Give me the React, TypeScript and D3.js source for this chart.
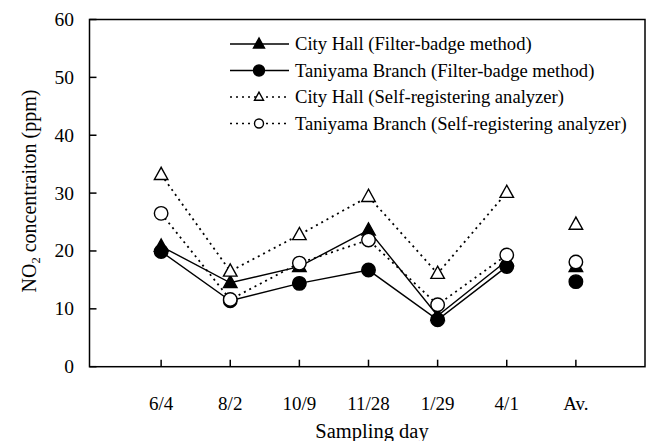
import React from "react";
import * as d3 from "d3";

const categories = ["6/4", "8/2", "10/9", "11/28", "1/29", "4/1", "Av."];
const cityFilter = [20.8, 14.5, 17.3, 23.6, 8.8, 18.3, 17.3];
const taniFilter = [19.9, 11.4, 14.4, 16.7, 8.1, 17.3, 14.7];
const citySelf = [33.2, 16.5, 22.8, 29.4, 16.1, 30.1, 24.6];
const taniSelf = [26.5, 11.6, 17.9, 21.9, 10.7, 19.3, 18.1];
const yTicks = [0, 10, 20, 30, 40, 50, 60];
const legendLabels = [
  "City Hall (Filter-badge method)",
  "Taniyama Branch (Filter-badge method)",
  "City Hall (Self-registering analyzer)",
  "Taniyama Branch (Self-registering analyzer)",
];

const W = 654, H = 441;
const L = 89.5, R = 645, T = 19.5, B = 366.7;
const FONT = "'Liberation Serif', 'Times New Roman', serif";

function Marker({ kind, x, y, s }: { kind: string; x: number; y: number; s: number }) {
  if (kind === "tri" || kind === "otri") {
    const h = s * 0.9;
    const pts = `${x},${y - h * 0.6} ${x - s / 2},${y + h * 0.4} ${x + s / 2},${y + h * 0.4}`;
    return (
      <polygon
        points={pts}
        fill={kind === "tri" ? "#000" : "#fff"}
        stroke="#000"
        strokeWidth={1.4}
        strokeLinejoin="miter"
      />
    );
  }
  return (
    <circle
      cx={x}
      cy={y}
      r={s / 2}
      fill={kind === "circ" ? "#000" : "#fff"}
      stroke="#000"
      strokeWidth={1.4}
    />
  );
}

export default function App() {
  const x = d3.scalePoint<string>().domain(categories).range([92, 645]).padding(1);
  const y = d3.scaleLinear().domain([0, 60]).range([B, T]);

  const series = [
    { data: cityFilter, kind: "tri", dash: null as string | null },
    { data: taniFilter, kind: "circ", dash: null },
    { data: citySelf, kind: "otri", dash: "2,4" },
    { data: taniSelf, kind: "ocirc", dash: "2,4" },
  ];

  const line = d3
    .line<number>()
    .x((_, i) => x(categories[i]) as number)
    .y((d) => y(d));

  const connected = categories.length - 1; // Av. not connected

  return (
    <svg
      width={W}
      height={H}
      style={{ position: "absolute", left: 0, top: 0, background: "#fff" }}
      fontFamily={FONT}
    >
      <rect x={0} y={0} width={W} height={H} fill="#fff" />
      {/* frame */}
      <rect x={L} y={T} width={R - L} height={B - T} fill="none" stroke="#000" strokeWidth={1.5} />
      {/* y ticks */}
      {yTicks.map((t) => (
        <g key={t}>
          <line x1={L} x2={L + 7} y1={y(t)} y2={y(t)} stroke="#000" strokeWidth={1.5} />
          <text x={74} y={y(t) + 6.5} textAnchor="end" fontSize={19.5}>
            {t}
          </text>
        </g>
      ))}
      {/* x ticks */}
      {categories.map((c) => (
        <g key={c}>
          <line x1={x(c)} x2={x(c)} y1={B} y2={B - 7} stroke="#000" strokeWidth={1.5} />
          <text x={x(c)} y={409.5} textAnchor="middle" fontSize={19}>
            {c}
          </text>
        </g>
      ))}
      <text x={372} y={438} textAnchor="middle" fontSize={20.5}>
        Sampling day
      </text>
      <text transform={`translate(36,191) rotate(-90)`} textAnchor="middle" fontSize={20}>
        NO<tspan fontSize={12.5} dy={4}>2</tspan>
        <tspan dy={-4}> concentraiton (ppm)</tspan>
      </text>
      {/* lines */}
      {series.map((s, i) => (
        <path
          key={"l" + i}
          d={line(s.data.slice(0, connected)) || ""}
          fill="none"
          stroke="#000"
          strokeWidth={s.dash ? 1.8 : 1.4}
          strokeDasharray={s.dash || undefined}
        />
      ))}
      {/* markers */}
      {series.map((s, i) => (
        <g key={"m" + i}>
          {s.data.map((v, j) => (
            <Marker key={j} kind={s.kind} x={x(categories[j]) as number} y={y(v)} s={13.5} />
          ))}
        </g>
      ))}
      {/* legend */}
      {series.map((s, i) => {
        const ly = 44 + i * 26.5;
        return (
          <g key={"lg" + i}>
            <line
              x1={230}
              x2={289}
              y1={ly}
              y2={ly}
              stroke="#000"
              strokeWidth={s.dash ? 1.5 : 1.4}
              strokeDasharray={s.dash || undefined}
            />
            <Marker kind={s.kind} x={259} y={ly} s={s.dash ? 9 : 11} />
            <text x={295} y={ly + 6} fontSize={18.6}>
              {legendLabels[i]}
            </text>
          </g>
        );
      })}
    </svg>
  );
}
